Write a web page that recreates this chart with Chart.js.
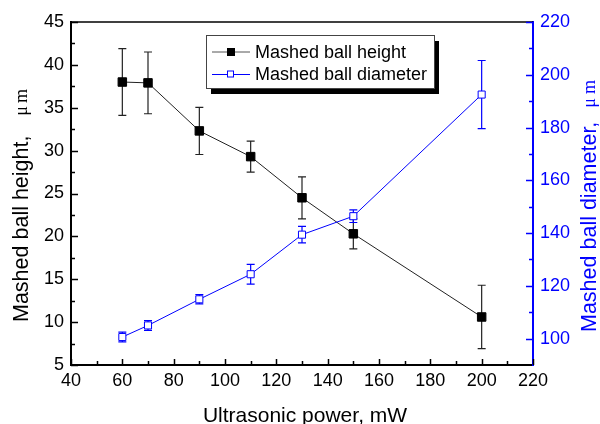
<!DOCTYPE html>
<html><head><meta charset="utf-8">
<script src="https://cdn.jsdelivr.net/npm/chart.js@4"></script>
<style>html,body{margin:0;padding:0;background:#fff}</style>
</head><body>
<canvas id="c" width="600" height="424"></canvas>
<script>
// ---- data ----
const powers = [60, 70, 90, 110, 130, 150, 200];
const heightVals = [38.0, 37.9, 32.3, 29.3, 24.5, 20.3, 10.6];
const heightErr = [3.9, 3.6, 2.75, 1.8, 2.45, 1.75, 3.7];
const diamVals = [100.6, 105.0, 114.9, 124.4, 139.4, 146.4, 192.5];
const diamErr = [1.85, 1.85, 1.75, 3.75, 3.15, 2.4, 12.9];
const xTicks = [40, 60, 80, 100, 120, 140, 160, 180, 200, 220];
const leftTicks = [5, 10, 15, 20, 25, 30, 35, 40, 45];
const rightTicks = [100, 120, 140, 160, 180, 200, 220];
const seriesNames = ['Mashed ball height', 'Mashed ball diameter'];
const xTitle = 'Ultrasonic power, mW';
const leftTitle = 'Mashed ball height,';
const rightTitle = 'Mashed ball diameter,';
const unitParts = ['μ', 'm'];

const BLUE = '#0000ff';
const FONT = '"Liberation Sans", Arial, sans-serif';
const SERIF = '"Liberation Serif", "Times New Roman", serif';

const errorBars = {
  id: 'errorBars',
  beforeDatasetsDraw(chart) {
    const ctx = chart.ctx;
    chart.data.datasets.forEach((ds, di) => {
      const meta = chart.getDatasetMeta(di);
      const ys = chart.scales[ds.yAxisID];
      ctx.save();
      ctx.strokeStyle = ds.errColor;
      ctx.lineWidth = 1.2;
      ds.data.forEach((p, i) => {
        const e = ds.errors[i];
        const px = meta.data[i].x;
        const top = ys.getPixelForValue(p.y + e);
        const bot = ys.getPixelForValue(p.y - e);
        ctx.beginPath();
        ctx.moveTo(px, top); ctx.lineTo(px, bot);
        ctx.moveTo(px - 4, top); ctx.lineTo(px + 4, top);
        ctx.moveTo(px - 4, bot); ctx.lineTo(px + 4, bot);
        ctx.stroke();
      });
      ctx.restore();
    });
  }
};

function vTitle(ctx, baseX, startY, text, color, px, muOff, mOff) {
  ctx.save();
  ctx.fillStyle = color;
  ctx.translate(baseX, startY);
  ctx.rotate(-Math.PI / 2);
  ctx.textBaseline = 'alphabetic';
  ctx.textAlign = 'left';
  ctx.font = px + 'px ' + FONT;
  ctx.fillText(text, 0, 0);
  ctx.textAlign = 'center';
  ctx.font = '18px ' + SERIF;
  ctx.fillText(unitParts[0], muOff, -1);
  ctx.fillText(unitParts[1], mOff, -1);
  ctx.restore();
}

const frame = {
  id: 'frame',
  afterDraw(chart) {
    const { ctx, chartArea: a, scales: { x, y, y1 } } = chart;
    ctx.save();
    // top border
    ctx.strokeStyle = '#000';
    ctx.lineWidth = 1.5;
    ctx.beginPath(); ctx.moveTo(a.left, a.top); ctx.lineTo(a.right, a.top); ctx.stroke();
    // x ticks (inward)
    ctx.beginPath();
    xTicks.forEach((v, i) => {
      const px = Math.round(x.getPixelForValue(v)) + 0.5;
      ctx.moveTo(px, a.bottom); ctx.lineTo(px, a.bottom - 6);
      if (i < xTicks.length - 1) {
        const m = Math.round(x.getPixelForValue((v + xTicks[i + 1]) / 2)) + 0.5;
        ctx.moveTo(m, a.bottom); ctx.lineTo(m, a.bottom - 4);
      }
    });
    // left ticks
    leftTicks.forEach((v, i) => {
      const py = Math.round(y.getPixelForValue(v)) + 0.5;
      ctx.moveTo(a.left, py); ctx.lineTo(a.left + 7, py);
      if (i < leftTicks.length - 1) {
        const m = Math.round(y.getPixelForValue((v + leftTicks[i + 1]) / 2)) + 0.5;
        ctx.moveTo(a.left, m); ctx.lineTo(a.left + 4, m);
      }
    });
    ctx.stroke();
    // right ticks
    ctx.strokeStyle = BLUE;
    ctx.beginPath();
    rightTicks.forEach((v, i) => {
      const py = Math.round(y1.getPixelForValue(v)) + 0.5;
      ctx.moveTo(a.right, py); ctx.lineTo(a.right - 7, py);
      if (i < rightTicks.length - 1) {
        const m = Math.round(y1.getPixelForValue((v + rightTicks[i + 1]) / 2)) + 0.5;
        ctx.moveTo(a.right, m); ctx.lineTo(a.right - 4, m);
      }
    });
    ctx.stroke();

    // axis titles
    ctx.font = '21px ' + FONT;
    ctx.textAlign = 'center';
    ctx.textBaseline = 'alphabetic';
    ctx.fillStyle = '#000';
    ctx.fillText(xTitle, 305, 422);
    vTitle(ctx, 28, 322, leftTitle, '#000', 21.5, 211, 226);
    vTitle(ctx, 596, 332, rightTitle, BLUE, 21.5, 229, 245);

    // legend
    const lx = 206, ly = 35, lw = 228, lh = 53;
    ctx.fillStyle = '#000';
    ctx.fillRect(lx + 5, ly + 6, lw, lh);
    ctx.fillStyle = '#fff';
    ctx.fillRect(lx, ly, lw, lh);
    ctx.strokeStyle = '#444';
    ctx.lineWidth = 1;
    ctx.strokeRect(lx + 0.5, ly + 0.5, lw, lh);
    const rows = [
      { y: 52, color: '#555' },
      { y: 74.5, color: BLUE }
    ];
    rows.forEach((r, i) => {
      ctx.strokeStyle = r.color;
      ctx.lineWidth = 1;
      ctx.beginPath(); ctx.moveTo(212, r.y); ctx.lineTo(250, r.y); ctx.stroke();
      if (i === 0) {
        ctx.fillStyle = '#000';
        ctx.fillRect(227, r.y - 4, 8, 8);
      } else {
        ctx.fillStyle = '#fff';
        ctx.fillRect(227.5, r.y - 3.5, 6, 6);
        ctx.strokeStyle = BLUE;
        ctx.strokeRect(227.5, r.y - 3.5, 6, 6);
      }
      ctx.fillStyle = '#000';
      ctx.font = '18px ' + FONT;
      ctx.textAlign = 'left';
      ctx.textBaseline = 'middle';
      ctx.fillText(seriesNames[i], 255, r.y + 1);
    });
    ctx.restore();
  }
};

new Chart(document.getElementById('c'), {
  type: 'line',
  data: {
    datasets: [
      {
        label: seriesNames[0],
        data: powers.map((p, i) => ({ x: p, y: heightVals[i] })),
        errors: heightErr,
        errColor: '#222',
        yAxisID: 'y',
        borderColor: '#222',
        borderWidth: 1,
        pointStyle: 'rect',
        pointRadius: 6,
        pointBackgroundColor: '#000',
        pointBorderColor: '#000',
        pointBorderWidth: 1,
        tension: 0,
        order: 1
      },
      {
        label: seriesNames[1],
        data: powers.map((p, i) => ({ x: p, y: diamVals[i] })),
        errors: diamErr,
        errColor: BLUE,
        yAxisID: 'y1',
        borderColor: BLUE,
        borderWidth: 1,
        pointStyle: 'rect',
        pointRadius: 5,
        pointBackgroundColor: '#fff',
        pointBorderColor: BLUE,
        pointBorderWidth: 1,
        tension: 0,
        order: 0
      }
    ]
  },
  options: {
    responsive: false,
    animation: false,
    devicePixelRatio: 1,
    layout: { padding: { top: 22, left: 0, right: 0, bottom: 0 } },
    plugins: { legend: { display: false }, tooltip: { enabled: false } },
    scales: {
      x: {
        type: 'linear', min: 40, max: 220,
        afterBuildTicks: s => { s.ticks = xTicks.map(v => ({ value: v })); },
        afterFit: s => { s.height = 59; },
        grid: { display: false, drawTicks: false },
        border: { display: true, color: '#000', width: 2 },
        ticks: { color: '#000', font: { size: 18, family: FONT }, padding: 5, maxRotation: 0, autoSkip: false }
      },
      y: {
        type: 'linear', position: 'left', min: 5, max: 45,
        afterBuildTicks: s => { s.ticks = leftTicks.map(v => ({ value: v })); },
        afterFit: s => { s.width = 71; },
        grid: { display: false, drawTicks: false },
        border: { display: true, color: '#000', width: 2 },
        ticks: { color: '#000', font: { size: 18, family: FONT }, padding: 7, autoSkip: false }
      },
      y1: {
        type: 'linear', position: 'right', min: 90, max: 220,
        afterBuildTicks: s => { s.ticks = rightTicks.map(v => ({ value: v })); },
        afterFit: s => { s.width = 67; },
        grid: { display: false, drawTicks: false },
        border: { display: true, color: BLUE, width: 2 },
        ticks: { color: BLUE, font: { size: 18, family: FONT }, padding: 7, autoSkip: false }
      }
    }
  },
  plugins: [errorBars, frame]
});
</script>
</body></html>
